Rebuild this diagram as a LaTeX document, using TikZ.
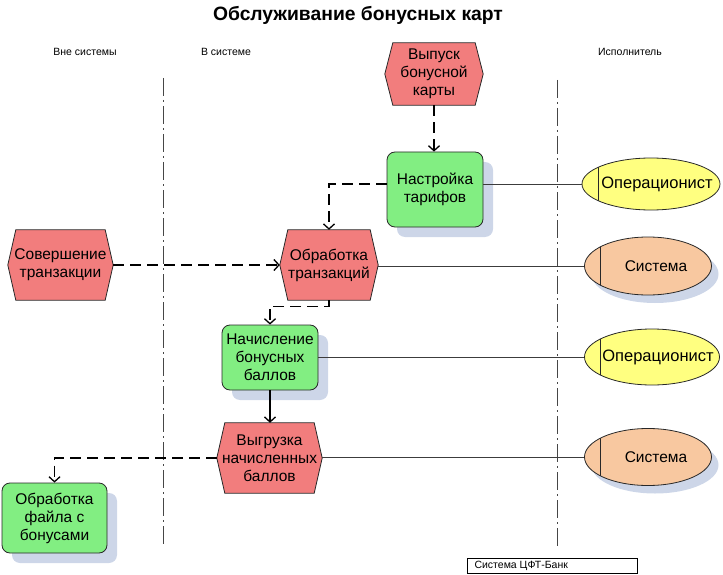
\documentclass[tikz,border=0pt]{standalone}
\usepackage{fontspec}
\setmainfont{Liberation Sans}
\usetikzlibrary{arrows.meta,shapes.geometric,shadows,backgrounds}
\definecolor{evred}{RGB}{242,125,125}
\definecolor{fngreen}{RGB}{130,238,130}
\definecolor{opyellow}{RGB}{255,255,128}
\definecolor{sysorange}{RGB}{248,200,160}
\definecolor{shadowc}{RGB}{205,214,232}
\definecolor{bordc}{RGB}{40,40,40}
\definecolor{linec}{RGB}{60,60,60}
\definecolor{sepc}{RGB}{70,70,70}
\newcommand{\nfont}{\fontsize{15.5}{18}\selectfont}
\newcommand{\hexpath}[1]{([xshift=8pt]#1.north west) -- ([xshift=-8pt]#1.north east) -- (#1.east) -- ([xshift=-8pt]#1.south east) -- ([xshift=8pt]#1.south west) -- (#1.west) -- cycle}
\begin{document}
\begin{tikzpicture}[x=1pt,y=-1pt,
  evbox/.style={rectangle,inner sep=0pt,align=center,font=\nfont},
  hexfill/.style={fill=evred,draw=bordc,line width=0.8pt},
  fnbox/.style={rectangle,rounded corners=8pt,fill=fngreen,draw=bordc,line width=0.8pt,inner sep=0pt,align=center,font=\nfont,
    drop shadow={shadow xshift=10pt,shadow yshift=-10pt,fill=shadowc,opacity=1}},
  orgbox/.style={ellipse,inner sep=0pt,draw=bordc,line width=0.8pt,
    path picture={\draw[bordc,line width=0.8pt] ([xshift=16pt]path picture bounding box.north west) -- ([xshift=16pt]path picture bounding box.south west);}},
  opbox/.style={orgbox,fill=opyellow},
  sysbox/.style={orgbox,fill=sysorange,drop shadow={shadow xshift=7pt,shadow yshift=-8pt,fill=shadowc,opacity=1}},
  flow/.style={line width=1.3pt,draw=black,dash pattern=on 11pt off 6pt,-{Straight Barb[length=5pt,width=11pt]}},
  sflow/.style={line width=1.3pt,draw=black,-{Straight Barb[length=5pt,width=11pt]}},
  link/.style={line width=0.8pt,draw=linec},
  sep/.style={line width=1pt,draw=sepc,dash pattern=on 18pt off 4pt on 2pt off 4pt},
  hdr/.style={font=\fontsize{10.5}{12}\selectfont}
]
\useasboundingbox (0,0) rectangle (723,575);

% title and headers
\node[font=\bfseries\fontsize{19.3}{22}\selectfont] (title) at (358,15) {Обслуживание бонусных карт};
\node[hdr] (h1) at (85,52) {Вне системы};
\node[hdr] (h2) at (226,52) {В системе};
\node[hdr] (h3) at (630,52) {Исполнитель};

% separators
\coordinate (s1a) at (163,78);
\coordinate (s1b) at (163,545);
\coordinate (s2a) at (557,80);
\coordinate (s2b) at (557,548);
\draw[sep] (s1a) -- (s1b);
\draw[sep] (s2a) -- (s2b);

% events (hexagons)
\node[evbox,minimum width=98pt,minimum height=62pt] (e1) at (434,74) {Выпуск\\бонусной\\карты};
\node[evbox,minimum width=105pt,minimum height=70pt] (e2) at (60.5,265) {Совершение\\транзакции};
\node[evbox,minimum width=98pt,minimum height=70pt] (f2) at (329,265) {Обработка\\транзакций};
\node[evbox,minimum width=105pt,minimum height=70pt] (f4) at (269.5,458) {Выгрузка\\начисленных\\баллов};
\begin{pgfonlayer}{background}
\draw[hexfill] \hexpath{e1};
\draw[hexfill] \hexpath{e2};
\draw[hexfill] \hexpath{f2};
\draw[hexfill] \hexpath{f4};
\end{pgfonlayer}

% functions
\node[fnbox,minimum width=96pt,minimum height=75pt] (f1) at (435,189.5) {Настройка\\тарифов};
\node[fnbox,minimum width=96pt,minimum height=65pt] (f3) at (270,357.5) {Начисление\\бонусных\\баллов};
\node[fnbox,minimum width=105pt,minimum height=70pt] (f5) at (54.5,518) {Обработка\\файла с\\бонусами};

% org units
\node[opbox,minimum width=138pt,minimum height=52pt,label={[font=\fontsize{16.5}{18}\selectfont,xshift=6pt]center:Операционист}] (o1) at (651,184) {};
\node[sysbox,minimum width=127pt,minimum height=58pt,label={[font=\nfont,xshift=8pt]center:Система}] (o2) at (648,266) {};
\node[opbox,minimum width=135pt,minimum height=56pt,label={[font=\fontsize{16.5}{18}\selectfont,xshift=6pt]center:Операционист}] (o3) at (652,357) {};
\node[sysbox,minimum width=127pt,minimum height=57pt,label={[font=\nfont,xshift=8pt]center:Система}] (o4) at (648,457) {};

% links
\draw[link] (o1.west -| f1.east) -- (o1.west);
\draw[link] (o2.west -| f2.east) -- (o2.west);
\draw[link] (o3.west -| f3.east) -- (o3.west);
\draw[link] (o4.west -| f4.east) -- (o4.west);

% control flow
\draw[flow] (e1.south) -- (e1.south |- f1.north);
\draw[flow] (o1.west -| f1.west) -| (f2.north);
\draw[flow] (e2.east) -- (f2.west);
\draw[flow] (f2.south) -- ++(0,6) -| (f3.north);
\draw[sflow] (f3.south) -- (f3.south |- f4.north);
\draw[flow] (f4.west) -| (f5.north);

% footer
\node[draw=black,line width=0.8pt,minimum width=170pt,minimum height=15pt,inner sep=0pt,anchor=north west] (foot) at (467,558) {};
\node[hdr,anchor=west] (foottxt) at (471,565.5) {Система ЦФТ-Банк};
\end{tikzpicture}
\end{document}
